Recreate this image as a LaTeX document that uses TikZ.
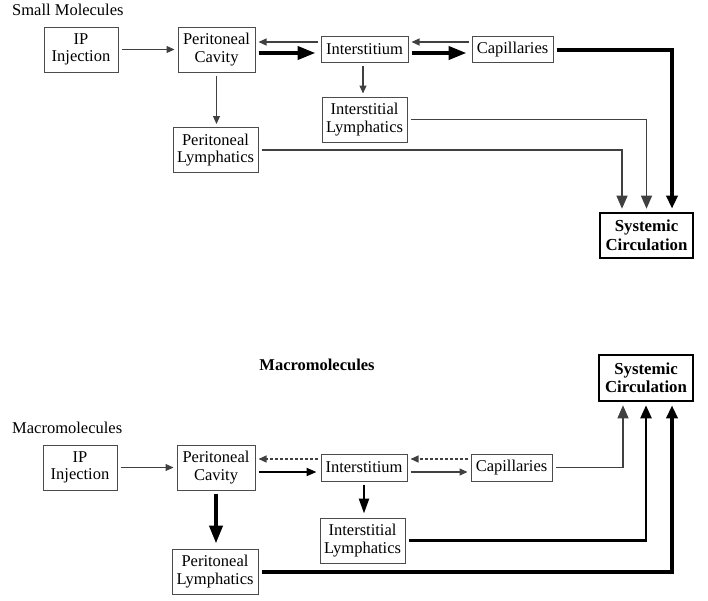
\documentclass[tikz,border=0pt]{standalone}
\usepackage{fontspec}
\setmainfont{Liberation Serif}
\usetikzlibrary{arrows.meta}

\begin{document}
\begin{tikzpicture}[x=1pt,y=-1pt, >={Triangle[length=8pt,width=7pt]},
    font=\fontsize{16.5}{17.5}\selectfont, line join=miter,
    box/.style={draw=black!70, line width=1pt, align=center, inner sep=3pt, minimum height=26pt},
    twobox/.style={box, minimum height=45pt},
    sysbox/.style={draw, line width=2.6pt, align=center, inner sep=3pt, minimum width=93pt, minimum height=45pt, font=\fontsize{16.8}{18.5}\selectfont\bfseries},
    thinflow/.style={->, draw=black!75, line width=1.1pt, shorten <=3pt, shorten >=3pt},
    medflow/.style={-{Triangle[length=10pt,width=8pt]}, line width=2pt, shorten <=3pt, shorten >=4pt},
    midflow/.style={-{Triangle[length=15pt,width=10pt]}, line width=2.4pt, shorten <=3pt, shorten >=4pt},
    thickflow/.style={-{Triangle[length=18pt,width=13pt]}, line width=4pt, shorten <=3pt, shorten >=5pt},
    backflow/.style={thinflow, dash pattern=on 3pt off 2pt},
    intosys/.style={-{Triangle[length=13pt,width=11pt]}, shorten >=3pt}]
    \useasboundingbox (0,0) rectangle (708,600);
    % small molecules
    \node[anchor=base west, inner sep=0pt] (smallTitle) at (12,15) {Small Molecules};
    \node[twobox, minimum width=74pt] (ipS) at (81,49.5) {IP\\Injection};
    \node[twobox, minimum width=77pt] (pcS) at (216.5,49.5) {Peritoneal\\Cavity};
    \node[box, minimum width=87pt] (itS) at (364.5,49.5) {Interstitium};
    \node[box, minimum width=81pt] (caS) at (512.5,49.5) {Capillaries};
    \node[twobox, minimum width=85pt] (ilS) at (364.5,119.5) {Interstitial\\Lymphatics};
    \node[twobox, minimum width=85pt] (plS) at (215.5,150) {Peritoneal\\Lymphatics};
    \node[sysbox] (scS) at (646.5,235.5) {Systemic\\Circulation};
    \draw[thinflow] (ipS) -- (pcS);
    \draw[thinflow] ([yshift=7.5pt]itS.west) -- ([yshift=7.5pt]pcS.east);
    \draw[thickflow] ([yshift=-3.5pt]pcS.east) -- ([yshift=-3.5pt]itS.west);
    \draw[thinflow] ([yshift=7.5pt]caS.west) -- ([yshift=7.5pt]itS.east);
    \draw[thickflow] ([yshift=-3.5pt]itS.east) -- ([yshift=-3.5pt]caS.west);
    \draw[thinflow] ([xshift=-1.5pt]itS.south) -- ([xshift=-1.5pt]itS.south |- ilS.north);
    \draw[thinflow] (pcS.south) -- (pcS.south |- plS.north);
    \draw[thickflow, intosys] (caS.east) -| ([xshift=25.5pt]scS.north);
    \draw[thinflow, intosys] (ilS.east) -| (scS.north);
    \draw[thinflow, intosys] (plS.east) -| ([xshift=-24.5pt]scS.north);
    % macromolecules
    \node[anchor=base, font=\fontsize{16.5}{17.5}\selectfont\bfseries] (bigTitle) at (317,370) {Macromolecules};
    \node[anchor=base west, inner sep=0pt] (macroLabel) at (12,433) {Macromolecules};
    \node[twobox, minimum width=74pt] (ipM) at (80,467.5) {IP\\Injection};
    \node[twobox, minimum width=78pt] (pcM) at (216,467.5) {Peritoneal\\Cavity};
    \node[box, minimum width=86pt, minimum height=27pt] (itM) at (364,467.5) {Interstitium};
    \node[box, minimum width=81pt, minimum height=27pt] (caM) at (511.5,467.5) {Capillaries};
    \node[twobox, minimum width=85pt] (ilM) at (362.5,540.5) {Interstitial\\Lymphatics};
    \node[twobox, minimum width=86pt] (plM) at (215,571.5) {Peritoneal\\Lymphatics};
    \node[sysbox, minimum width=94pt, minimum height=46pt] (scM) at (646,378) {Systemic\\Circulation};
    \draw[thinflow] (ipM) -- (pcM);
    \draw[backflow] ([yshift=8.5pt]itM.west) -- ([yshift=8.5pt]pcM.east);
    \draw[medflow] ([yshift=-4.5pt]pcM.east) -- ([yshift=-4.5pt]itM.west);
    \draw[backflow] ([yshift=8.5pt]caM.west) -- ([yshift=8.5pt]itM.east);
    \draw[thinflow] ([yshift=-4.5pt]itM.east) -- ([yshift=-4.5pt]caM.west);
    \draw[midflow] (itM.south) -- (itM.south |- ilM.north);
    \draw[thickflow] (pcM.south) -- (pcM.south |- plM.north);
    \draw[thinflow, intosys] (caM.east) -| ([xshift=-23pt]scM.south);
    \draw[midflow, intosys] (ilM.east) -| (scM.south);
    \draw[thickflow, intosys] (plM.east) -| ([xshift=26pt]scM.south);
\end{tikzpicture}
\end{document}
